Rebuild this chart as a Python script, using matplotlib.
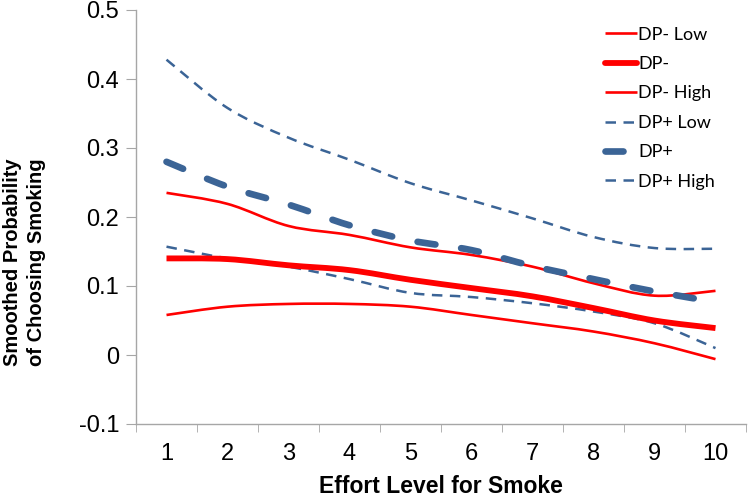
import numpy as np
import matplotlib
matplotlib.use("Agg")
import matplotlib.pyplot as plt
from matplotlib.path import Path
from matplotlib.patches import PathPatch
from matplotlib.lines import Line2D

effort = [1, 2, 3, 4, 5, 6, 7, 8, 9, 10]
dp_minus_low = [0.058, 0.070, 0.074, 0.074, 0.070, 0.058, 0.046, 0.034, 0.017, -0.006]
dp_minus = [0.140, 0.139, 0.130, 0.123, 0.109, 0.097, 0.085, 0.068, 0.050, 0.039]
dp_minus_high = [0.235, 0.219, 0.187, 0.174, 0.156, 0.145, 0.128, 0.104, 0.086, 0.093]
dp_plus_low = [0.157, 0.140, 0.128, 0.110, 0.090, 0.084, 0.075, 0.063, 0.046, 0.010]
dp_plus = [0.280, 0.244, 0.218, 0.188, 0.166, 0.152, 0.129, 0.110, 0.092, 0.077]
dp_plus_high = [0.428, 0.358, 0.315, 0.283, 0.249, 0.224, 0.198, 0.171, 0.155, 0.154]
y_ticks = [-0.1, 0, 0.1, 0.2, 0.3, 0.4, 0.5]
y_tick_labels = ["-0.1", "0", "0.1", "0.2", "0.3", "0.4", "0.5"]

RED = "#FF0000"
BLUE = "#3B6496"


def smooth_path(x, y):
    # Bezier path (Catmull-Rom control points) like Excel's smoothed line
    x = np.asarray(x, float)
    y = np.asarray(y, float)
    pts = np.column_stack([x, y])
    verts = [pts[0]]
    codes = [Path.MOVETO]
    n = len(pts)
    for i in range(n - 1):
        p0 = pts[i - 1] if i > 0 else pts[i]
        p1 = pts[i]
        p2 = pts[i + 1]
        p3 = pts[i + 2] if i + 2 < n else pts[i + 1]
        c1 = p1 + (p2 - p0) / 6.0
        c2 = p2 - (p3 - p1) / 6.0
        verts += [c1, c2, p2]
        codes += [Path.CURVE4] * 3
    return Path(verts, codes)


fig = plt.figure(figsize=(7.48, 4.96), dpi=100)
ax = fig.add_axes([136 / 748, 1 - 424 / 496, 610 / 748, 414 / 496])

series = [
    ("DP- Low", dp_minus_low, RED, 1.9, "-", "butt", 3),
    ("DP-", dp_minus, RED, 4.2, "-", "butt", 4),
    ("DP- High", dp_minus_high, RED, 1.9, "-", "butt", 3),
    ("DP+ Low", dp_plus_low, BLUE, 1.8, (0, (4.2, 3.0)), "butt", 3),
    ("DP+", dp_plus, BLUE, 4.8, (0, (2.7, 3.9)), "round", 4),
    ("DP+ High", dp_plus_high, BLUE, 1.8, (0, (4.2, 3.0)), "butt", 3),
]

handles = []
for label, vals, color, lw, ls, cap, z in series:
    patch = PathPatch(smooth_path(effort, vals), facecolor="none", edgecolor=color,
                      lw=lw, linestyle=ls, capstyle=cap, zorder=z)
    ax.add_patch(patch)
    h = Line2D([], [], color=color, lw=lw, linestyle=ls,
               dash_capstyle=cap, solid_capstyle="round" if lw > 3 else "butt")
    handles.append(h)

ax.set_xlim(0.5, 10.5)
ax.set_ylim(-0.1, 0.5)

for s in ["top", "right"]:
    ax.spines[s].set_visible(False)
for s in ["left", "bottom"]:
    ax.spines[s].set_color("#A6A6A6")
    ax.spines[s].set_linewidth(1.0)

ax.set_yticks(y_ticks)
ax.set_yticklabels(y_tick_labels, fontfamily="Liberation Sans", fontsize=17)
ax.set_xticks(effort)
ax.set_xticklabels([str(e) for e in effort], fontfamily="Liberation Sans", fontsize=17)
ax.set_xticks([e - 0.5 for e in effort] + [10.5], minor=True)
ax.tick_params(axis="x", which="major", length=0, pad=14)
ax.tick_params(axis="x", which="minor", length=6, color="#A6A6A6", direction="out")
ax.tick_params(axis="y", which="major", length=7, color="#A6A6A6", direction="out", pad=5)

ax.set_xlabel("Effort Level for Smoke", fontfamily="Liberation Sans", fontsize=16.5,
              fontweight="bold")
ax.xaxis.set_label_coords(0.5, -0.122)
ax.set_ylabel("Smoothed Probability\nof Choosing Smoking", fontfamily="Liberation Sans",
              fontsize=14.5, fontweight="bold", linespacing=1.35)
ax.yaxis.set_label_coords(-0.147, 0.39)

leg = ax.legend(handles, [s[0] for s in series], loc="upper left",
                bbox_to_anchor=(462 / 610, 0.977), frameon=False,
                prop={"family": "Lato", "size": 13}, handlelength=1.75,
                handletextpad=0.08, labelspacing=0.74, borderaxespad=0.0)

fig.savefig("out.png", dpi=100)
